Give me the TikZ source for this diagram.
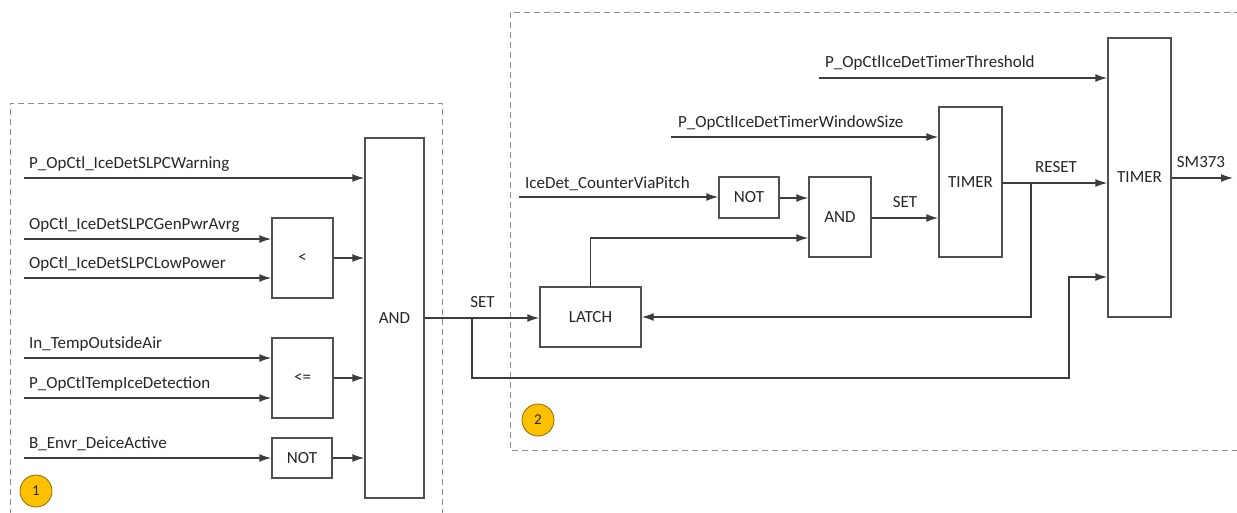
\documentclass[tikz,border=0pt]{standalone}
\usepackage{fontspec}
\setmainfont{Carlito}
\usetikzlibrary{arrows.meta}
\definecolor{linec}{HTML}{3C3C3C}
\definecolor{boxc}{HTML}{505050}
\definecolor{dashc}{HTML}{8C8C8C}
\definecolor{txtc}{HTML}{262626}
\definecolor{badge}{HTML}{FFC000}
\definecolor{badgeline}{HTML}{8A6A00}
\tikzset{
  blk/.style={draw=boxc, line width=1.4pt, fill=white, inner sep=0pt, text=txtc, font=\fontsize{17}{17}\selectfont},
  lbl/.style={anchor=base west, inner sep=0pt, text=txtc, font=\fontsize{17}{17}\selectfont},
  clbl/.style={anchor=base, inner sep=0pt, text=txtc, font=\fontsize{17}{17}\selectfont},
  wire/.style={draw=linec, line width=1.4pt},
  arr/.style={wire, -{Latex[length=12pt,width=8pt]}},
  frame/.style={draw=dashc, line width=1pt, dash pattern=on 6pt off 4pt},
  badgec/.style={circle, draw=badgeline, fill=badge, line width=0.8pt, minimum size=32pt, inner sep=0pt, text=txtc, font=\fontsize{15}{15}\selectfont}
}
\begin{document}
\begin{tikzpicture}[x=1pt,y=-1pt]
\useasboundingbox (0,0) rectangle (1237,512);
% frames
\draw[frame] (10,515) -- (10,103) -- (442,103) -- (442,515);
\draw[frame] (1240,12) -- (510,12) -- (510,450) -- (1240,450);
% left blocks
\node[blk, minimum width=59pt, minimum height=360pt] (and1) at (394.5,318) {AND};
\node[blk, minimum width=61pt, minimum height=80pt] (lt) at (302.5,258) {<};
\node[blk, minimum width=61pt, minimum height=80pt] (le) at (302.5,378) {<=};
\node[blk, minimum width=60pt, minimum height=40pt] (not1) at (302,458) {NOT};
% left inputs
\coordinate (i1) at (24,178);
\coordinate (i2) at (24,239);
\coordinate (i3) at (24,278);
\coordinate (i4) at (24,358);
\coordinate (i5) at (24,398);
\coordinate (i6) at (24,458);
\draw[arr] (i1) -- (i1 -| and1.west);
\draw[arr] (i2) -- (i2 -| lt.west);
\draw[arr] (i3) -- (i3 -| lt.west);
\draw[arr] (i4) -- (i4 -| le.west);
\draw[arr] (i5) -- (i5 -| le.west);
\draw[arr] (i6) -- (not1.west);
\draw[arr] (lt.east) -- (lt.east -| and1.west);
\draw[arr] (le.east) -- (le.east -| and1.west);
\draw[arr] (not1.east) -- (not1.east -| and1.west);
\node[lbl] (l1) at (29,168) {P\_OpCtl\_IceDetSLPCWarning};
\node[lbl] (l2) at (29,229) {OpCtl\_IceDetSLPCGenPwrAvrg};
\node[lbl] (l3) at (29,268) {OpCtl\_IceDetSLPCLowPower};
\node[lbl] (l4) at (29,348) {In\_TempOutsideAir};
\node[lbl] (l5) at (29,388) {P\_OpCtlTempIceDetection};
\node[lbl] (l6) at (29,448) {B\_Envr\_DeiceActive};
\node[badgec] (b1) at (36,491) {1};
% right blocks
\node[blk, minimum width=101pt, minimum height=60pt] (latch) at (590.5,317) {LATCH};
\node[blk, minimum width=60pt, minimum height=41pt] (not2) at (749,197.5) {NOT};
\node[blk, minimum width=62pt, minimum height=80pt] (and2) at (840,217) {AND};
\node[blk, minimum width=63pt, minimum height=150pt] (t1) at (970.5,182) {TIMER};
\node[blk, minimum width=63pt, minimum height=279pt] (t2) at (1139.5,177.5) {TIMER};
\node[badgec] (b2) at (538,420) {2};
% connections
\coordinate (setj) at (472,318);
\coordinate (j1) at (1069,378);
\coordinate (j2) at (1069,277);
\draw[arr] (and1.east |- setj) -- (setj -| latch.west);
\draw[arr] (setj) |- (j1) |- (j2 -| t2.west);
\node[clbl] (setl) at (482.5,307) {SET};
\coordinate (lup) at (590.5,238);
\draw[arr] (latch.north) -- (lup) -- (lup -| and2.west);
\coordinate (c1) at (519,197);
\draw[arr] (c1) -- (c1 -| not2.west);
\node[lbl] (lc1) at (525,188) {IceDet\_CounterViaPitch};
\draw[arr] (not2.east |- 0,198) -- (and2.west |- 0,198);
\coordinate (a2o) at (871,218);
\draw[arr] (a2o) -- (a2o -| t1.west);
\node[clbl] (set2) at (905,207) {SET};
\coordinate (w1) at (671,137);
\draw[arr] (w1) -- (w1 -| t1.west);
\node[lbl] (lw1) at (678,127) {P\_OpCtlIceDetTimerWindowSize};
\coordinate (th) at (819,78);
\draw[arr] (th) -- (th -| t2.west);
\node[lbl] (lth) at (825,67) {P\_OpCtlIceDetTimerThreshold};
\coordinate (t1o) at (1002,183);
\draw[arr] (t1o) -- (t1o -| t2.west);
\node[clbl] (rst) at (1056,172) {RESET};
\coordinate (rj) at (1031,183);
\draw[arr] (rj) |- (latch.east);
\coordinate (out) at (1233,178);
\draw[arr] (out -| t2.east) -- (out);
\node[clbl] (sm) at (1201,167) {SM373};
\end{tikzpicture}
\end{document}
